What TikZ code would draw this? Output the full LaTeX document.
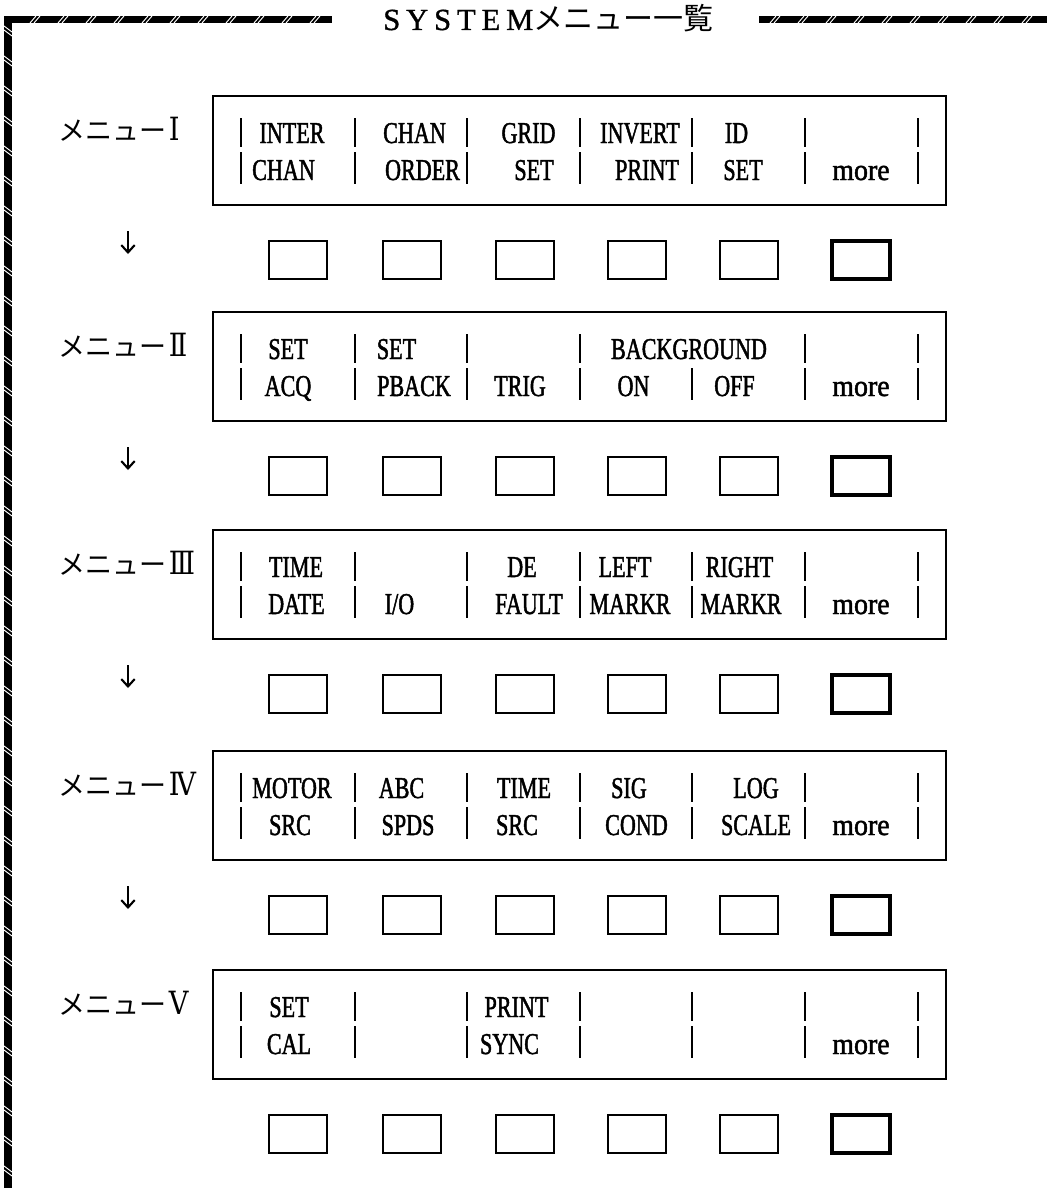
\documentclass[tikz,border=0pt]{standalone}
\usepackage{fontspec}
\setmainfont{Liberation Serif}[FakeStretch=0.73,FakeBold=1.5]
\newfontfamily\lowfont{Liberation Serif}[FakeStretch=0.92,FakeBold=1.5]
\newfontfamily\titlefont{Liberation Serif}[FakeBold=1]
\newfontfamily\romfont{DejaVu Serif}[FakeStretch=0.85]
\newfontfamily\jp{Noto Sans CJK JP}
\usetikzlibrary{arrows.meta}
\begin{document}
\begin{tikzpicture}[x=0.75pt,y=-0.75pt,
  hatch/.style={draw=white, line width=0.7pt},
  menubox/.style={draw, line width=1.4pt, minimum width=549.75pt, minimum height=81.75pt, inner sep=0pt},
  key/.style={draw, line width=1.3pt, minimum width=43.5pt, minimum height=28.5pt, inner sep=0pt},
  morekey/.style={key, line width=2.6pt},
  bar/.style={line width=1.3pt},
  cell/.style={font=\fontsize{22.7}{24}\selectfont, inner sep=0pt, anchor=base},
  lowcell/.style={inner sep=0pt, anchor=base, font=\lowfont\fontsize{22.7}{24}\selectfont},
  menulabel/.style={font=\jp\fontsize{20.25}{22}\selectfont, inner sep=0pt, anchor=base west},
  down/.style={line width=1.6pt, -{Straight Barb[length=5.5pt,width=10pt]}},
]
\useasboundingbox[fill=white] (0,0) rectangle (1047,1188);

% ---- hatched frame ----
\fill (5,16) rectangle (332,23);
\foreach \x in {30,58,...,320} {\draw[hatch] (\x,23) -- (\x+6,16); \draw[hatch] (\x+4,23) -- (\x+10,16);}
\fill (759,16) rectangle (1047,23);
\foreach \x in {770,798,...,1040} {\draw[hatch] (\x,23) -- (\x+6,16); \draw[hatch] (\x+4,23) -- (\x+10,16);}
\fill (4,16) rectangle (12,1188);
\foreach \y in {26,56,...,1176} {\draw[hatch] (4,\y) -- (12,\y+6); \draw[hatch] (4,\y+4) -- (12,\y+10);}

% ---- title ----
\node[anchor=base west, inner sep=0pt] (title) at (383,30)
  {{\titlefont\addfontfeature{LetterSpace=19}\fontsize{23}{26}\selectfont SYSTEM}{\jp\fontsize{22.5}{26}\selectfont メニュー一覧}};

% ---- menus: box, label, keys ----
\foreach \m/\T/\num in {1/96/Ⅰ,2/312/Ⅱ,3/530/Ⅲ,4/751/Ⅳ,5/970/Ⅴ} {
  \node[menubox] (box\m) at (579.5,\T+54.5) {};
  \node[menulabel] (lab\m) at (58,\T+44) {メニュー\kern2pt{\romfont\fontsize{24}{26}\selectfont\num}};
  \foreach \k/\xc in {1/298,2/412,3/525,4/637,5/749}
    \node[key] (key\m-\k) at (\xc,\T+164) {};
  \node[morekey] (key\m-6) at (861,\T+164) {};
}

% ---- arrows between menus ----
\foreach \m/\T in {1/96,2/312,3/530,4/751} {
  \coordinate (dns\m) at (128,\T+135);
  \coordinate (dne\m) at (128,\T+158);
  \draw[down] (dns\m) -- (dne\m);
}

% ---- separator bars ----
\foreach \T in {96,530,751,970} {
  \foreach \x in {241,355,467,580,692,805,918} {
    \draw[bar] (\x,\T+22) -- (\x,\T+51);
    \draw[bar] (\x,\T+56) -- (\x,\T+88);
  }
}
\foreach \x in {241,355,467,580,805,918} \draw[bar] (\x,334) -- (\x,363);
\foreach \x in {241,355,467,580,692,805,918} \draw[bar] (\x,368) -- (\x,400);

% ---- menu I ----
\node[cell] (m1a1) at (292,143) {INTER};
\node[cell] (m1a2) at (414.5,143) {CHAN};
\node[cell] (m1a3) at (528.5,143) {GRID};
\node[cell] (m1a4) at (640,143) {INVERT};
\node[cell] (m1a5) at (736.5,143) {ID};
\node[cell] (m1b1) at (283.5,180) {CHAN};
\node[cell] (m1b2) at (422.5,180) {ORDER};
\node[cell] (m1b3) at (534,180) {SET};
\node[cell] (m1b4) at (647,180) {PRINT};
\node[cell] (m1b5) at (743,180) {SET};
\node[lowcell] (m1b6) at (861,180) {more};

% ---- menu II ----
\node[cell] (m2a1) at (288,359) {SET};
\node[cell] (m2a2) at (396.5,359) {SET};
\node[cell] (m2a4) at (689,359) {BACKGROUND};
\node[cell] (m2b1) at (288,396) {ACQ};
\node[cell] (m2b2) at (414,396) {PBACK};
\node[cell] (m2b3) at (520,396) {TRIG};
\node[cell] (m2b4) at (633.5,396) {ON};
\node[cell] (m2b5) at (734.5,396) {OFF};
\node[lowcell] (m2b6) at (861,396) {more};

% ---- menu III ----
\node[cell] (m3a1) at (296,577) {TIME};
\node[cell] (m3a3) at (522,577) {DE};
\node[cell] (m3a4) at (625,577) {LEFT};
\node[cell] (m3a5) at (739.5,577) {RIGHT};
\node[cell] (m3b1) at (296.5,614) {DATE};
\node[cell] (m3b2) at (399.5,614) {I/O};
\node[cell] (m3b3) at (529,614) {FAULT};
\node[cell] (m3b4) at (630,614) {MARKR};
\node[cell] (m3b5) at (741,614) {MARKR};
\node[lowcell] (m3b6) at (861,614) {more};

% ---- menu IV ----
\node[cell] (m4a1) at (292,798) {MOTOR};
\node[cell] (m4a2) at (401.5,798) {ABC};
\node[cell] (m4a3) at (524,798) {TIME};
\node[cell] (m4a4) at (629,798) {SIG};
\node[cell] (m4a5) at (756,798) {LOG};
\node[cell] (m4b1) at (290,835) {SRC};
\node[cell] (m4b2) at (408,835) {SPDS};
\node[cell] (m4b3) at (517,835) {SRC};
\node[cell] (m4b4) at (636.5,835) {COND};
\node[cell] (m4b5) at (756,835) {SCALE};
\node[lowcell] (m4b6) at (861,835) {more};

% ---- menu V ----
\node[cell] (m5a1) at (289,1017) {SET};
\node[cell] (m5a3) at (516.5,1017) {PRINT};
\node[cell] (m5b1) at (289,1054) {CAL};
\node[cell] (m5b3) at (509.5,1054) {SYNC};
\node[lowcell] (m5b6) at (861,1054) {more};
\end{tikzpicture}
\end{document}
